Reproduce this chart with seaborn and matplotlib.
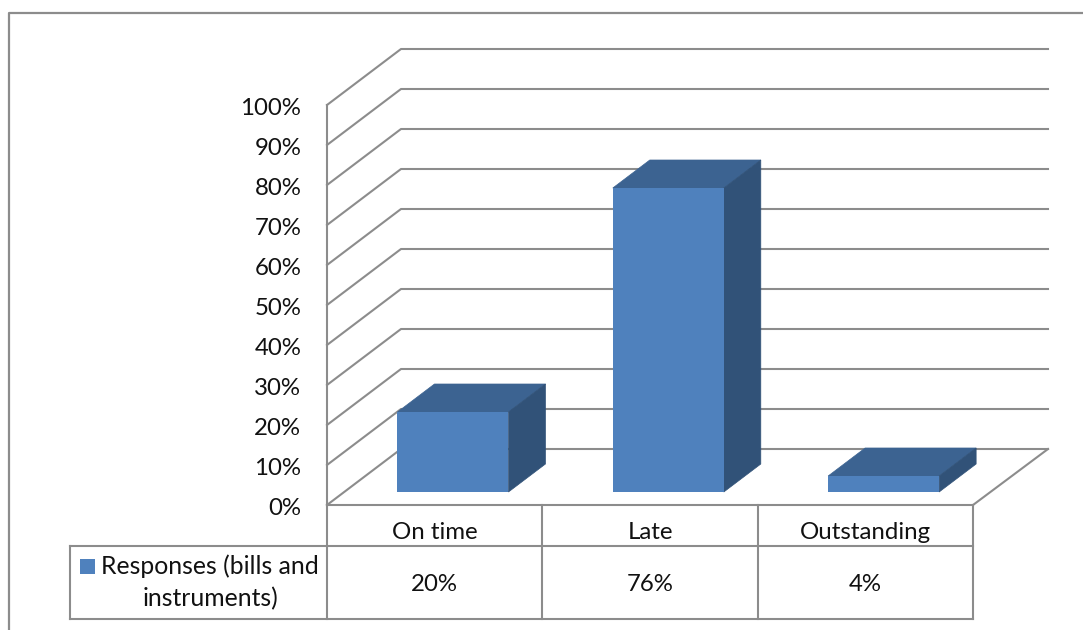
import matplotlib
matplotlib.use("Agg")
import matplotlib.pyplot as plt
from matplotlib.lines import Line2D
from matplotlib.patches import Polygon, Rectangle
from matplotlib.transforms import ScaledTranslation
import pandas as pd
import seaborn as sns

categories = ["On time", "Late", "Outstanding"]
responses = [20, 76, 4]
y_ticks = [0, 10, 20, 30, 40, 50, 60, 70, 80, 90, 100]
series_name = ["Responses (bills and", "instruments)"]

W, H = 1083, 630
FRONT = "#4F81BD"
TOP = "#3C6391"
SIDE = "#315278"
LINE = "#8C8C8C"
INK = "#111111"
FONT = "Lato"
FONT_SIZE = 17.3
KEY_FONT_SIZE = 17.8

sns.set_theme(style="white")
plt.rcParams["font.family"] = [FONT, "DejaVu Sans"]

fig = plt.figure(figsize=(W / 100, H / 100), dpi=100, facecolor="white")

# Front plane of the box: 0% at y=505 px, 100% at y=105 px, three bands across 646 px
LEFT, RIGHT, BASE, TOPY = 327, 973, 505, 105
ax = fig.add_axes([LEFT / W, 1 - BASE / H, (RIGHT - LEFT) / W, (BASE - TOPY) / H])
ax.set_xlim(-0.5, 2.5)
ax.set_ylim(0, 100)
ax.patch.set_visible(False)
for s in ax.spines.values():
    s.set_visible(False)

px_x = (RIGHT - LEFT) / 3
px_y = (BASE - TOPY) / 100
# Depth of the box, of the bars, and the inset of the bars from the front plane
box_dx, box_dy = 74 / px_x, 56 / px_y
bar_dx, bar_dy = 37 / px_x, 28 / px_y
inset_x, inset_y = 18.3 / px_x, 13 / px_y
bar_width = 111 / px_x
back_right = RIGHT + 75
back_right = (back_right - LEFT) / px_x - 0.5

frame = dict(color=LINE, lw=1.5, clip_on=False, solid_capstyle="projecting", zorder=1)

# Back wall gridlines running into the side wall
for t in y_ticks:
    ax.plot([-0.5, -0.5 + box_dx, back_right], [t, t + box_dy, t + box_dy], **frame)
# Left edge of the side wall and right edge of the floor
ax.plot([-0.5, -0.5], [0, 100], **frame)
ax.plot([2.5, back_right], [0, box_dy], **frame)

# Front faces of the columns
df = pd.DataFrame({"category": categories, "share": responses})
sns.barplot(data=df, x="category", y="share", order=categories, color=FRONT,
            saturation=1, width=bar_width, ax=ax, zorder=3, linewidth=0)
ax.set_xlim(-0.5, 2.5)
ax.set_ylim(0, 100)
ax.set_xlabel("")
ax.set_ylabel("")

for bar in ax.containers[0]:
    bar.set_x(bar.get_x() + inset_x)
    bar.set_y(inset_y)
    bar.set_clip_on(False)
    bar.set_edgecolor("none")
    x0, x1 = bar.get_x(), bar.get_x() + bar.get_width()
    y0, y1 = bar.get_y(), bar.get_y() + bar.get_height()
    ax.add_patch(Polygon([(x0, y1), (x1, y1), (x1 + bar_dx, y1 + bar_dy), (x0 + bar_dx, y1 + bar_dy)],
                         closed=True, fc=TOP, ec=TOP, lw=0.5, zorder=2.5, clip_on=False))
    ax.add_patch(Polygon([(x1, y0), (x1, y1), (x1 + bar_dx, y1 + bar_dy), (x1 + bar_dx, y0 + bar_dy)],
                         closed=True, fc=SIDE, ec=SIDE, lw=0.5, zorder=2.5, clip_on=False))

# Value axis labels, nudged down a little, and category labels
ax.set_yticks(y_ticks, [f"{t}%" for t in y_ticks])
ax.tick_params(axis="y", length=0, pad=18.5, labelsize=FONT_SIZE, labelcolor=INK)
nudge = ScaledTranslation(0, -1.5 / 100, fig.dpi_scale_trans)
for label in ax.get_yticklabels():
    label.set_transform(label.get_transform() + nudge)
ax.set_xticks(range(len(categories)), categories)
ax.tick_params(axis="x", length=0, pad=12.5, labelsize=FONT_SIZE, labelcolor=INK)

# Data table beneath the plot
row1 = -(546 - BASE) / px_y
row2 = -(619 - BASE) / px_y
table_left = (70 - LEFT) / px_x - 0.5
for xb in [-0.5, 0.5, 1.5, 2.5]:
    ax.plot([xb, xb], [0, row2], **frame)
ax.plot([-0.5, 2.5], [0, 0], **frame)
ax.plot([table_left, 2.5], [row1, row1], **frame)
ax.plot([table_left, 2.5], [row2, row2], **frame)
ax.plot([table_left, table_left], [row1, row2], **frame)
for i, v in enumerate(responses):
    ax.text(i, (row1 + row2) / 2 - 0.4, f"{v}%", ha="center", va="center",
            fontsize=FONT_SIZE, color=INK, clip_on=False)

# Series key inside the table's first column
fig.add_artist(Rectangle((80 / W, 1 - 574 / H), 15 / W, 15 / H,
                         transform=fig.transFigure, fc=FRONT, ec="none"))
fig.text(210 / W, 1 - 566 / H, series_name[0], ha="center", va="center",
         fontsize=KEY_FONT_SIZE, color=INK)
fig.text(210 / W, 1 - 599 / H, series_name[1], ha="center", va="center",
         fontsize=KEY_FONT_SIZE, color=INK)

# Outer chart border, running off the right and bottom of the canvas
fig.add_artist(Line2D([9 / W, 9 / W, 1], [0, 1 - 13 / H, 1 - 13 / H],
                      transform=fig.transFigure, color=LINE, lw=1.6))

fig.savefig("out.png", dpi=100, facecolor="white")
